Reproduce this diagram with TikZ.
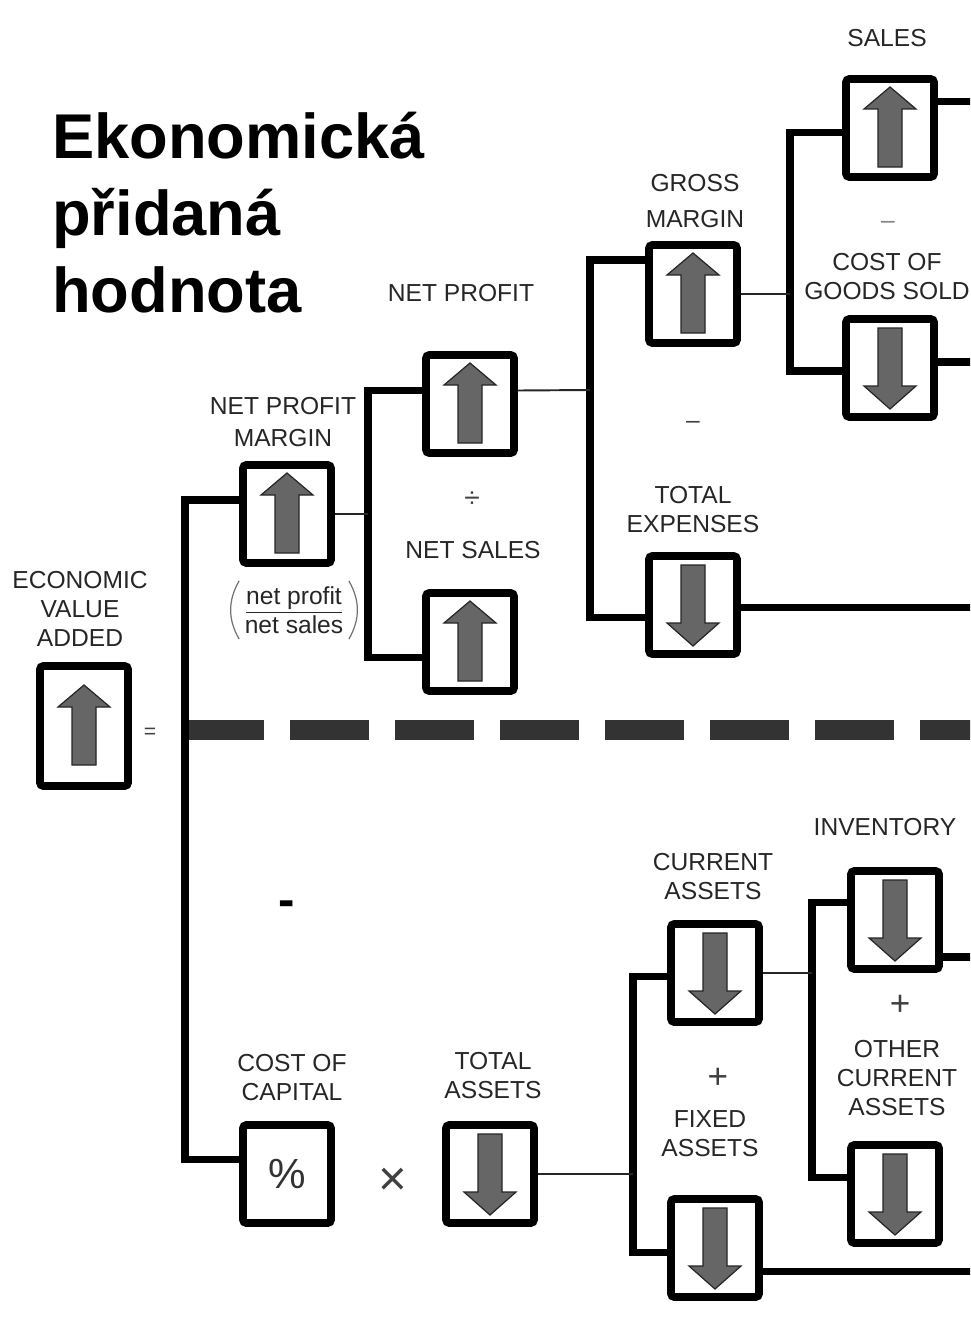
\documentclass[tikz,border=0pt]{standalone}
\usepackage{fontspec}
\setmainfont{Liberation Sans}

\tikzset{
  box/.style={draw=black, line width=4.5pt, rounded corners=2pt, fill=white,
    minimum width=1.76cm, minimum height=1.96cm, inner sep=0pt},
  lbl/.style={text=black!85, font=\fontsize{14}{16.5}\selectfont, align=center, inner sep=1pt},
  sign/.style={text=black!75, inner sep=0pt},
  trunk/.style={line width=4pt, draw=black},
  link/.style={line width=1.1pt, draw=black!85},
  sep/.style={line width=11pt, draw=black!80, dash pattern=on 1.58cm off 0.52cm},
  paren/.style={line width=0.7pt, draw=black!55},
  uparr/.pic={\filldraw[fill=black!60, draw=black!85, line width=0.7pt]
    (-12,39) -- (-12,-19) -- (-26,-19) -- (0,-41) -- (26,-19) -- (12,-19) -- (12,39) -- cycle;},
  downarr/.pic={\filldraw[fill=black!60, draw=black!85, line width=0.7pt]
    (-12,-40) -- (-12,18) -- (-26,18) -- (0,41) -- (26,18) -- (12,18) -- (12,-40) -- cycle;}
}

\begin{document}
\begin{tikzpicture}[x=0.02cm, y=-0.02cm]
\clip (0,0) rectangle (970,1335);

% title
\node[anchor=north west, inner sep=0pt, align=left, font=\fontsize{36}{43.7}\selectfont\bfseries] (title) at (52,112) {Ekonomická\\přidaná\\hodnota};

% spines
\coordinate (s0) at (185,730);
\coordinate (s1) at (368,517);
\coordinate (s2) at (590,390);
\coordinate (s3) at (790,298);
\coordinate (s4) at (633,1179);
\coordinate (s5) at (812,976);
\coordinate (edge) at (975,730);

% dashed separator
\draw[sep] (s0) -- (edge);

% boxes
\node[box, minimum height=2.4cm] (eva) at (84,726) {};
\node[box] (npm) at (287,514) {};
\node[box] (np) at (470,404) {};
\node[box] (ns) at (470,642) {};
\node[box] (gm) at (693,294) {};
\node[box] (te) at (693,605) {};
\node[box] (sales) at (890,128) {};
\node[box] (cogs) at (890,368) {};
\node[box] (coc) at (287,1174) {};
\node[box] (ta) at (490,1174) {};
\node[box] (ca) at (715,973) {};
\node[box] (fa) at (715,1248) {};
\node[box] (inv) at (895,920) {};
\node[box] (oca) at (895,1194) {};

\pic at (eva) {uparr};
\pic at (npm) {uparr};
\pic at (np) {uparr};
\pic at (ns) {uparr};
\pic at (gm) {uparr};
\pic at (te) {downarr};
\pic at (sales) {uparr};
\pic at (cogs) {downarr};
\pic at (ta) {downarr};
\pic at (ca) {downarr};
\pic at (fa) {downarr};
\pic at (inv) {downarr};
\pic at (oca) {downarr};
\node[font=\fontsize{24}{24}\selectfont, text=black!80] (pct) at (coc) {\%};

% brackets
\draw[trunk] ([yshift=.28cm]npm.west) -| (s0) |- ([yshift=.29cm]coc.west);
\draw[trunk] ([yshift=.27cm]np.west) -| (s1) |- ([yshift=-.31cm]ns.west);
\draw[trunk] ([yshift=.68cm]gm.west) -| (s2) |- ([yshift=-.25cm]te.west);
\draw[trunk] ([yshift=-.09cm]sales.west) -| (s3) |- ([yshift=-.06cm]cogs.west);
\draw[trunk] ([yshift=-.07cm]ca.west) -| (s4) |- ([yshift=-.09cm]fa.west);
\draw[trunk] ([yshift=.36cm]inv.west) -| (s5) |- ([yshift=.33cm]oca.west);

% thin links
\draw[link] (npm.east) -- (npm.east -| s1);
\draw[link] ([yshift=.27cm]np.east) -- (s2);
\draw[link] (gm.east) -- (gm.east -| s3);
\draw[link] (ta.east) -- (ta.east -| s4);
\draw[link] (ca.east) -- (ca.east -| s5);

% outgoing
\draw[trunk] ([yshift=.53cm]sales.east) -- ++(100,0);
\draw[trunk] ([yshift=.12cm]cogs.east) -- ++(100,0);
\draw[trunk] ([yshift=-.05cm]te.east) -- ++(300,0);
\draw[trunk] ([yshift=-.74cm]inv.east) -- ++(100,0);
\draw[trunk] ([yshift=-.47cm]fa.east) -- ++(300,0);

% labels
\node[lbl] (leva) at (80,609) {ECONOMIC\\VALUE\\ADDED};
\node[lbl] (lnpm) at (283,422) {NET PROFIT\\[2pt]MARGIN};
\node[lbl] (lnp) at (461,293) {NET PROFIT};
\node[lbl] (lns) at (473,550) {NET SALES};
\node[lbl] (lgm) at (695,201) {GROSS\\[4pt]MARGIN};
\node[lbl] (lte) at (693,510) {TOTAL\\EXPENSES};
\node[lbl] (lsales) at (887,38) {SALES};
\node[lbl] (lcogs) at (887,277) {COST OF\\GOODS SOLD};
\node[lbl] (lcoc) at (292,1078) {COST OF\\CAPITAL};
\node[lbl] (lta) at (493,1076) {TOTAL\\ASSETS};
\node[lbl] (lca) at (713,877) {CURRENT\\ASSETS};
\node[lbl] (lfa) at (710,1134) {FIXED\\ASSETS};
\node[lbl] (linv) at (885,827) {INVENTORY};
\node[lbl] (loca) at (897,1078) {OTHER\\CURRENT\\ASSETS};

% fraction note
\node[lbl, inner xsep=3pt, inner ysep=3pt] (frac) at (294,610) {\underline{net profit}\\net sales};
\draw[paren] (frac.north west) to[bend right=30] (frac.south west);
\draw[paren] (frac.north east) to[bend left=30] (frac.south east);

% operators
\node[sign, font=\fontsize{12}{12}\selectfont] (eq) at (150,733) {=};
\node[sign, font=\fontsize{16}{16}\selectfont] (div) at (472,500) {÷};
\node[sign, font=\fontsize{14}{14}\selectfont] (m1) at (693,425) {–};
\node[sign, font=\fontsize{14}{14}\selectfont, text=black!50] (m2) at (888,225) {–};
\node[sign, font=\fontsize{28}{28}\selectfont\bfseries, text=black] (m3) at (287,909) {-};
\node[sign, font=\fontsize{28}{28}\selectfont] (times) at (393,1182) {×};
\node[sign, font=\fontsize{20}{20}\selectfont] (p1) at (718,1078) {+};
\node[sign, font=\fontsize{20}{20}\selectfont] (p2) at (900,1005) {+};
\end{tikzpicture}
\end{document}
